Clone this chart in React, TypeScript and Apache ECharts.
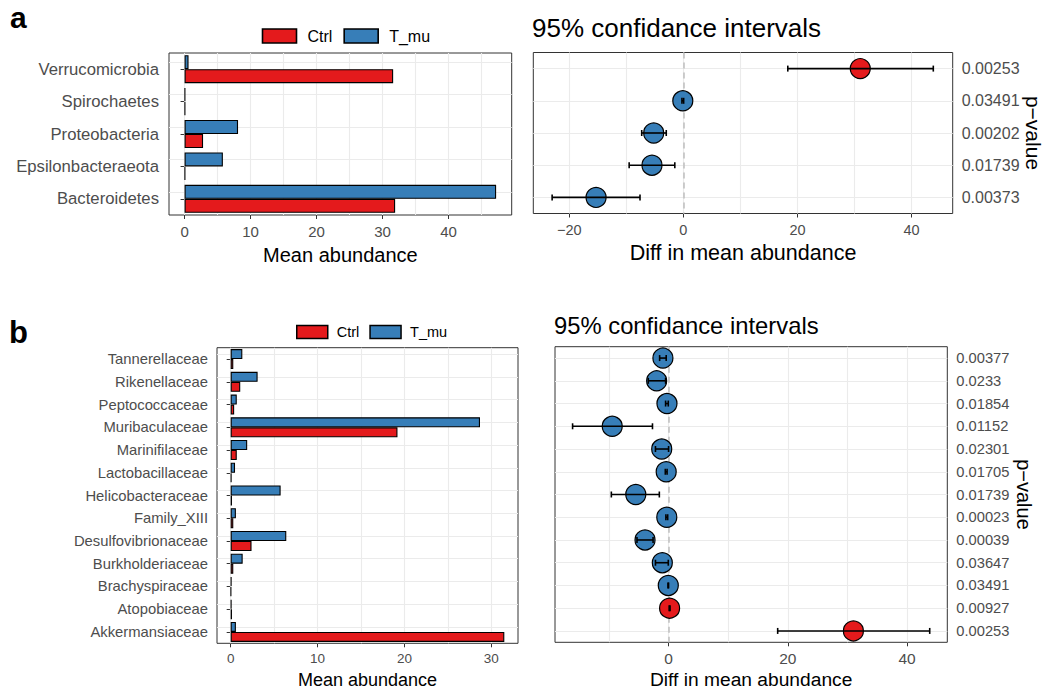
import React, { useEffect, useRef } from 'react';
import * as echarts from 'echarts';

// ---------- Panel a (phylum level) ----------
const phylaA = ['Verrucomicrobia', 'Spirochaetes', 'Proteobacteria', 'Epsilonbacteraeota', 'Bacteroidetes'];
const ctrlA = [31.6, 0.1, 2.8, 0.1, 31.9];
const tmuA = [0.6, 0.1, 8.1, 5.8, 47.2];
const diffA = [31.0, -0.1, -5.2, -5.5, -15.3];
const lowerA = [18.3, -0.25, -7.3, -9.5, -23.0];
const upperA = [43.8, 0.05, -3.0, -1.5, -7.6];
const pValuesA = ['0.00253', '0.03491', '0.00202', '0.01739', '0.00373'];

// ---------- Panel b (family level) ----------
const familiesB = [
  'Tannerellaceae', 'Rikenellaceae', 'Peptococcaceae', 'Muribaculaceae', 'Marinifilaceae',
  'Lactobacillaceae', 'Helicobacteraceae', 'Family_XIII', 'Desulfovibrionaceae', 'Burkholderiaceae',
  'Brachyspiraceae', 'Atopobiaceae', 'Akkermansiaceae',
];
const ctrlB = [0.3, 1.1, 0.4, 19.2, 0.7, 0.1, 0.15, 0.3, 2.4, 0.3, 0.05, 0.15, 31.5];
const tmuB = [1.34, 3.1, 0.7, 28.7, 1.9, 0.5, 5.75, 0.6, 6.4, 1.38, 0.1, 0.1, 0.6];
const diffB = [-0.95, -2.0, -0.27, -9.45, -1.15, -0.4, -5.5, -0.3, -3.95, -1.05, -0.05, 0.17, 31.0];
const lowerB = [-1.5, -3.4, -0.5, -16.1, -2.2, -0.55, -9.6, -0.45, -5.3, -2.2, -0.1, 0.1, 18.3];
const upperB = [-0.4, -0.5, -0.05, -2.7, 0.0, -0.25, -1.55, -0.15, -2.6, -0.05, 0.0, 0.25, 43.8];
const pValuesB = [
  '0.00377', '0.0233', '0.01854', '0.01152', '0.02301', '0.01705', '0.01739',
  '0.00023', '0.00039', '0.03647', '0.03491', '0.00927', '0.00253',
];

// ---------- ticks / grid lines ----------
const ticksAL = [0, 10, 20, 30, 40];
const gridXAL = [0, 5, 10, 15, 20, 25, 30, 35, 40, 45];
const ticksAR = [-20, 0, 20, 40];
const gridXAR = [-20, -10, 0, 10, 20, 30, 40];
const ticksBL = [0, 10, 20, 30];
const gridXBL = [0, 5, 10, 15, 20, 25, 30];
const ticksBR = [0, 20, 40];
const gridXBR = [-10, 0, 10, 20, 30, 40];

const RED = '#E41A1C';
const BLUE = '#377EB8';
const FONT = '"Liberation Sans", Arial, Helvetica, sans-serif';

const fmt = (v: number) => (v < 0 ? '\u2212' + Math.abs(v) : String(v));

function gridLines(xs: number[], nCats: number, zeroDashed: boolean) {
  const data: any[] = xs.map((x) => ({ xAxis: x }));
  for (let i = 0; i < nCats; i++) data.push({ yAxis: i });
  if (zeroDashed) {
    data.push({ xAxis: 0, lineStyle: { color: '#BEBEBE', type: [6, 4], width: 1.5 } });
  }
  return {
    silent: true,
    z: 1,
    symbol: ['none', 'none'],
    label: { show: false },
    emphasis: { disabled: true },
    animation: false,
    lineStyle: { color: '#EBEBEB', width: 1.1, type: 'solid' },
    data,
  };
}

function valueX(gridIndex: number, min: number, max: number, ticks: number[], fontSize: number,
  margin: number, name: string, nameSize: number, nameGap: number) {
  return {
    type: 'value', gridIndex, min, max,
    axisLine: { show: false },
    axisTick: { show: true, length: 4, lineStyle: { color: '#333', width: 1 }, customValues: ticks },
    axisLabel: { customValues: ticks, color: '#4D4D4D', fontSize, margin, formatter: fmt },
    splitLine: { show: false },
    name, nameLocation: 'middle', nameGap,
    nameTextStyle: { color: '#000', fontSize: nameSize },
  };
}

function ciRender(r: number) {
  return (params: any, api: any) => {
    const y = api.value(1);
    const c = api.coord([api.value(0), y]);
    const l = api.coord([api.value(2), y]);
    const h = api.coord([api.value(3), y]);
    const fill = api.value(0) > 0 ? RED : BLUE;
    const ls = { stroke: '#000', lineWidth: 1.6 };
    return {
      type: 'group',
      children: [
        { type: 'circle', shape: { cx: c[0], cy: c[1], r }, style: { fill, stroke: '#000', lineWidth: 1.2 } },
        { type: 'line', shape: { x1: l[0], y1: l[1], x2: h[0], y2: h[1] }, style: ls },
        { type: 'line', shape: { x1: l[0], y1: l[1] - 3, x2: l[0], y2: l[1] + 3 }, style: ls },
        { type: 'line', shape: { x1: h[0], y1: h[1] - 3, x2: h[0], y2: h[1] + 3 }, style: ls },
      ],
    };
  };
}

export default function App() {
  const ref = useRef<HTMLDivElement>(null);

  useEffect(() => {
    if (!ref.current) return;
    const chart = echarts.init(ref.current, undefined, { renderer: 'svg' });

    const catY = (gridIndex: number, data: string[], fontSize: number, margin: number) => ({
      type: 'category', gridIndex, data, inverse: true,
      axisLine: { show: false },
      axisTick: { show: true, alignWithLabel: true, length: 4, lineStyle: { color: '#333', width: 1 } },
      axisLabel: { color: '#4D4D4D', fontSize, margin },
      splitLine: { show: false },
    });

    const pY = (gridIndex: number, data: string[], fontSize: number, margin: number, nameSize: number, nameGap: number) => ({
      type: 'category', gridIndex, data, inverse: true, position: 'right',
      axisLine: { show: false },
      axisTick: { show: false },
      axisLabel: { color: '#4D4D4D', fontSize, margin },
      splitLine: { show: false },
      name: 'p\u2212value', nameLocation: 'middle', nameRotate: -90, nameGap,
      nameTextStyle: { color: '#000', fontSize: nameSize },
    });

    const border = { show: true, borderColor: '#333', borderWidth: 1, backgroundColor: 'transparent' };

    const option: any = {
      animation: false,
      textStyle: { fontFamily: FONT },
      title: [
        { text: 'a', left: 10, top: 2.6, padding: 0, textStyle: { fontSize: 30, fontWeight: 'bold', color: '#000', lineHeight: 30 } },
        { text: '95% confidance intervals', left: 532, top: 14.7, padding: 0, textStyle: { fontSize: 26, fontWeight: 'normal', color: '#000', lineHeight: 26 } },
        { text: 'b', left: 9, top: 317, padding: 0, textStyle: { fontSize: 31, fontWeight: 'bold', color: '#000', lineHeight: 31 } },
        { text: '95% confidance intervals', left: 554, top: 313.4, padding: 0, textStyle: { fontSize: 23.8, fontWeight: 'normal', color: '#000', lineHeight: 23.8 } },
      ],
      legend: [
        {
          data: ['Ctrl', 'T_mu'], left: 261.7, top: 28, padding: 0, itemWidth: 34, itemHeight: 14, itemGap: 11,
          icon: 'rect', selectedMode: false,
          itemStyle: { borderColor: '#000', borderWidth: 1.6 },
          textStyle: { fontSize: 16, color: '#000', padding: [0, 0, 0, 6] },
        },
        {
          data: ['Ctrl', 'T_mu'], left: 296, top: 324.5, padding: 0, itemWidth: 31, itemHeight: 13, itemGap: 10,
          icon: 'rect', selectedMode: false,
          itemStyle: { borderColor: '#000', borderWidth: 1.5 },
          textStyle: { fontSize: 14.5, color: '#000', padding: [0, 0, 0, 4] },
        },
      ],
      grid: [
        { left: 169, top: 53, width: 342.7, height: 162, ...border },
        { left: 533.3, top: 52.5, width: 419.4, height: 161, ...border },
        { left: 217, top: 347.7, width: 301, height: 295.6, ...border },
        { left: 555, top: 346.7, width: 392.3, height: 295.6, ...border },
      ],
      xAxis: [
        valueX(0, -2.36, 49.56, ticksAL, 15, 9, 'Mean abundance', 20, 30),
        valueX(1, -26.3, 47.2, ticksAR, 14.5, 9, 'Diff in mean abundance', 21.5, 28),
        valueX(2, -1.575, 33.075, ticksBL, 13.5, 8, 'Mean abundance', 18, 27.5),
        valueX(3, -19.05, 46.75, ticksBR, 15.5, 8, 'Diff in mean abundance', 19.2, 27.5),
      ],
      yAxis: [
        catY(0, phylaA, 16.7, 10),
        pY(1, pValuesA, 16, 9, 21, 70),
        catY(2, familiesB, 14.8, 9),
        pY(3, pValuesB, 14.7, 9, 20, 66.5),
      ],
      series: [
        {
          type: 'bar', name: 'T_mu', xAxisIndex: 0, yAxisIndex: 0, data: tmuA, barWidth: 14, barGap: '0%',
          itemStyle: { color: BLUE, borderColor: '#000', borderWidth: 1.1 },
          markLine: gridLines(gridXAL, phylaA.length, false),
        },
        {
          type: 'bar', name: 'Ctrl', xAxisIndex: 0, yAxisIndex: 0, data: ctrlA, barWidth: 14, barGap: '0%',
          itemStyle: { color: RED, borderColor: '#000', borderWidth: 1.1 },
        },
        {
          type: 'custom', name: 'ciA', xAxisIndex: 1, yAxisIndex: 1,
          data: diffA.map((d, i) => [d, i, lowerA[i], upperA[i]]),
          encode: { x: 0, y: 1 },
          renderItem: ciRender(10),
          markLine: gridLines(gridXAR, pValuesA.length, true),
        },
        {
          type: 'bar', name: 'T_mu', xAxisIndex: 2, yAxisIndex: 2, data: tmuB, barWidth: 10, barGap: '0%',
          itemStyle: { color: BLUE, borderColor: '#000', borderWidth: 1.1 },
          markLine: gridLines(gridXBL, familiesB.length, false),
        },
        {
          type: 'bar', name: 'Ctrl', xAxisIndex: 2, yAxisIndex: 2, data: ctrlB, barWidth: 10, barGap: '0%',
          itemStyle: { color: RED, borderColor: '#000', borderWidth: 1.1 },
        },
        {
          type: 'custom', name: 'ciB', xAxisIndex: 3, yAxisIndex: 3,
          data: diffB.map((d, i) => [d, i, lowerB[i], upperB[i]]),
          encode: { x: 0, y: 1 },
          renderItem: ciRender(10),
          markLine: gridLines(gridXBR, pValuesB.length, true),
        },
      ],
    };

    chart.setOption(option);
    return () => chart.dispose();
  }, []);

  return (
    <div
      ref={ref}
      style={{ position: 'absolute', left: 0, top: 0, width: 1049, height: 690, background: '#fff' }}
    />
  );
}
